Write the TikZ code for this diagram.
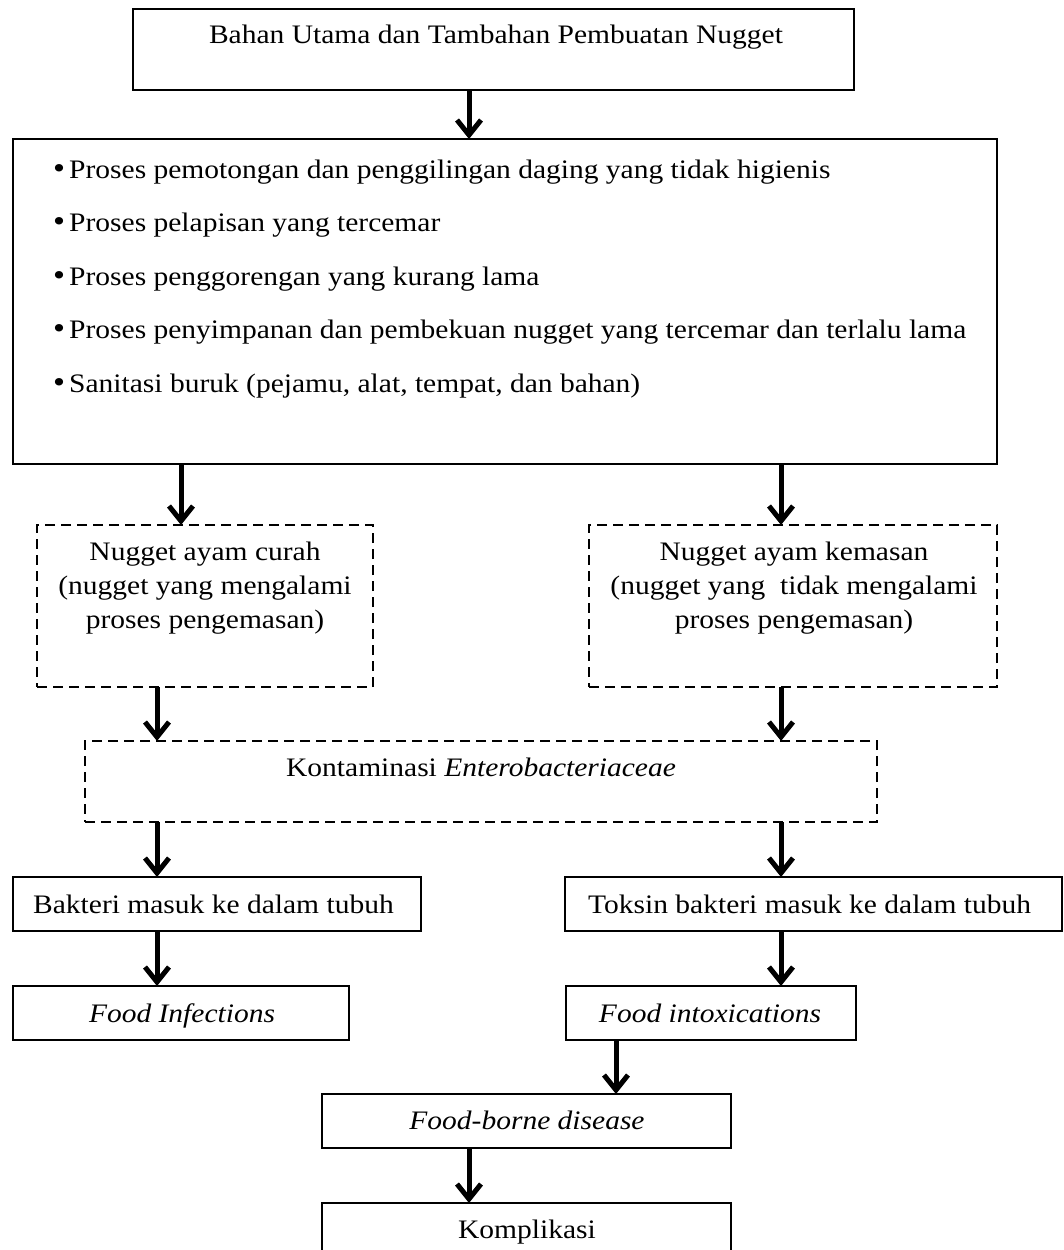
\documentclass[tikz,border=0pt]{standalone}
\usepackage{fontspec}
\setmainfont{Liberation Serif}[FakeStretch=1.105]
\usetikzlibrary{arrows.meta}
\newcommand{\bigbul}{{\fontsize{31}{31}\selectfont\textbullet}\hspace{4pt}}
\begin{document}
\begin{tikzpicture}[x=1pt,y=-1pt,
  box/.style={draw=black,line width=2pt,inner sep=0pt,outer sep=0pt},
  dbox/.style={box,dash pattern=on 10pt off 6pt},
  txt/.style={inner sep=0pt,font=\fontsize{26.7}{34}\selectfont},
  blt/.style={txt,anchor=base west},
  arr/.style={line width=5pt,-{Straight Barb[length=15pt,width=24pt]}}]
\useasboundingbox (0,0) rectangle (1064,1250);
% boxes
\node[box,minimum width=721pt,minimum height=81pt] (top) at (493.5,49.5) {};
\node[box,minimum width=984pt,minimum height=325pt] (big) at (505,301.5) {};
\node[dbox,minimum width=336pt,minimum height=162pt] (dl) at (205,606) {};
\node[dbox,minimum width=408pt,minimum height=162pt] (dr) at (793,606) {};
\node[dbox,minimum width=792pt,minimum height=81pt] (kont) at (481,781.5) {};
\node[box,minimum width=408pt,minimum height=54pt] (bak) at (217,904) {};
\node[box,minimum width=497pt,minimum height=54pt] (tok) at (813.5,904) {};
\node[box,minimum width=336pt,minimum height=54pt] (fi) at (181,1013) {};
\node[box,minimum width=290pt,minimum height=54pt] (fx) at (711,1013) {};
\node[box,minimum width=409pt,minimum height=54pt] (fb) at (526.5,1121) {};
\node[box,minimum width=409pt,minimum height=54pt] (kom) at (526.5,1230) {};
% texts
\node[txt,anchor=base] (ttop) at (496,43) {Bahan Utama dan Tambahan Pembuatan Nugget};
\node[blt] (b1) at (53,178) {\bigbul Proses pemotongan dan penggilingan daging yang tidak higienis};
\node[blt] (b2) at (53,231.5) {\bigbul Proses pelapisan yang tercemar};
\node[blt] (b3) at (53,285) {\bigbul Proses penggorengan yang kurang lama};
\node[blt] (b4) at (53,338.5) {\bigbul Proses penyimpanan dan pembekuan nugget yang tercemar dan terlalu lama};
\node[blt] (b5) at (53,392) {\bigbul Sanitasi buruk (pejamu, alat, tempat, dan bahan)};
\node[txt,anchor=base] (dl1) at (205,560) {Nugget ayam curah};
\node[txt,anchor=base] (dl2) at (205,594) {(nugget yang mengalami};
\node[txt,anchor=base] (dl3) at (205,628) {proses pengemasan)};
\node[txt,anchor=base] (dr1) at (794,560) {Nugget ayam kemasan};
\node[txt,anchor=base] (dr2) at (794,594) {(nugget yang\ \ tidak mengalami};
\node[txt,anchor=base] (dr3) at (794,628) {proses pengemasan)};
\node[txt,anchor=base] (tkont) at (481,776) {Kontaminasi \textit{Enterobacteriaceae}};
\node[txt,anchor=base west] (tbak) at (33,913) {Bakteri masuk ke dalam tubuh};
\node[txt,anchor=base west] (ttok) at (588,913) {Toksin bakteri masuk ke dalam tubuh};
\node[txt,anchor=base] (tfi) at (182,1022) {\textit{Food Infections}};
\node[txt,anchor=base] (tfx) at (710,1022) {\textit{Food intoxications}};
\node[txt,anchor=base] (tfb) at (527,1129) {\textit{Food-borne disease}};
\node[txt,anchor=base] (tkom) at (527,1238) {Komplikasi};
% arrow columns
\coordinate (xa) at (469,0);
\coordinate (xb) at (181,0);
\coordinate (xc) at (781,0);
\coordinate (xd) at (157,0);
\coordinate (xe) at (616,0);
% arrows
\draw[arr] (top.south -| xa) -- (big.north -| xa);
\draw[arr] (big.south -| xb) -- (dl.north -| xb);
\draw[arr] (big.south -| xc) -- (dr.north -| xc);
\draw[arr] (dl.south -| xd) -- (kont.north -| xd);
\draw[arr] (dr.south -| xc) -- (kont.north -| xc);
\draw[arr] (kont.south -| xd) -- (bak.north -| xd);
\draw[arr] (kont.south -| xc) -- (tok.north -| xc);
\draw[arr] (bak.south -| xd) -- (fi.north -| xd);
\draw[arr] (tok.south -| xc) -- (fx.north -| xc);
\draw[arr] (fx.south -| xe) -- (fb.north -| xe);
\draw[arr] (fb.south -| xa) -- (kom.north -| xa);
\end{tikzpicture}
\end{document}
